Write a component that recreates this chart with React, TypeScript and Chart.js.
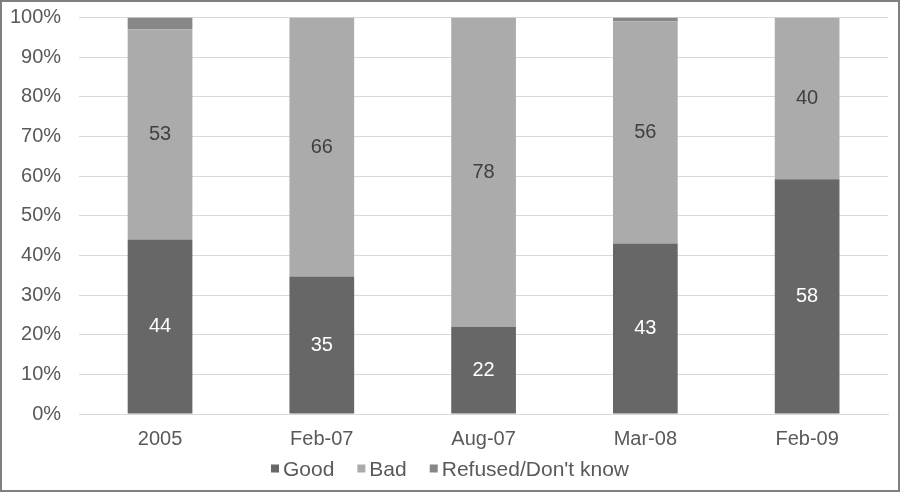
import { useEffect, useRef } from 'react'
import Chart from 'chart.js/auto'

const categories = ['2005', 'Feb-07', 'Aug-07', 'Mar-08', 'Feb-09']
const seriesNames = ['Good', 'Bad', "Refused/Don't know"]
const good = [44, 35, 22, 43, 58]
const bad = [53, 66, 78, 56, 40]
const refused = [3, 0, 0, 1, 0]

const FONT = '"Liberation Sans", Arial, sans-serif'
const TEXT = '#595959'
const colors = ['#676767', '#ababab', '#878787']

const totals = categories.map((_, i) => good[i] + bad[i] + refused[i])
const share = (vals: number[]) => vals.map((v, i) => (v / totals[i]) * 100)

const rawValues = [good, bad, refused]
const labelColors = ['#ffffff', '#404040', null]

// numbers in the middle of each segment
const valueLabels = {
  id: 'valueLabels',
  afterDatasetsDraw(chart: Chart) {
    const ctx = chart.ctx
    ctx.save()
    ctx.font = `20px ${FONT}`
    ctx.textAlign = 'center'
    ctx.textBaseline = 'middle'
    chart.data.datasets.forEach((_, di) => {
      const color = labelColors[di]
      if (!color) return
      const meta = chart.getDatasetMeta(di)
      meta.data.forEach((bar: any, i: number) => {
        const v = rawValues[di][i]
        if (!v) return
        const { x, y, base } = bar.getProps(['x', 'y', 'base'], true)
        ctx.fillStyle = color
        ctx.fillText(String(v), x, (y + base) / 2)
      })
    })
    ctx.restore()
  },
}

// compact legend: small squares close to the text
const compactLegend = {
  id: 'compactLegend',
  afterDraw(chart: Chart) {
    const ctx = chart.ctx
    const box = 8
    const gap = 4
    const spacing = 23
    ctx.save()
    ctx.font = `21px ${FONT}`
    ctx.textBaseline = 'alphabetic'
    const items = chart.data.datasets.map((ds) => ({
      text: String(ds.label),
      color: String(ds.backgroundColor),
      w: ctx.measureText(String(ds.label)).width,
    }))
    const total =
      items.reduce((s, it) => s + box + gap + it.w, 0) + spacing * (items.length - 1)
    let x = chart.width / 2 - total / 2
    const baseline = chart.height - 14.5
    items.forEach((it) => {
      ctx.fillStyle = it.color
      ctx.fillRect(x, baseline - 11, box, box)
      x += box + gap
      ctx.fillStyle = TEXT
      ctx.fillText(it.text, x, baseline)
      x += it.w + spacing
    })
    ctx.restore()
  },
}

export default function App() {
  const canvasRef = useRef<HTMLCanvasElement>(null)
  const chartRef = useRef<Chart | null>(null)

  useEffect(() => {
    document.body.style.margin = '0'
    const canvas = canvasRef.current
    if (!canvas) return
    const ctx = canvas.getContext('2d')
    if (!ctx) return

    if (chartRef.current) chartRef.current.destroy()

    chartRef.current = new Chart(ctx, {
      type: 'bar',
      data: {
        labels: categories,
        datasets: [
          { label: seriesNames[0], data: share(good), backgroundColor: colors[0] },
          { label: seriesNames[1], data: share(bad), backgroundColor: colors[1] },
          { label: seriesNames[2], data: share(refused), backgroundColor: colors[2] },
        ],
      },
      plugins: [valueLabels, compactLegend],
      options: {
        animation: false,
        responsive: true,
        maintainAspectRatio: false,
        datasets: {
          bar: { categoryPercentage: 1, barPercentage: 0.4 },
        },
        layout: { padding: { left: 8, right: 10, top: 15.5, bottom: 34 } },
        plugins: {
          legend: { display: false },
          tooltip: { enabled: false },
        },
        scales: {
          x: {
            stacked: true,
            grid: { display: false },
            border: { display: true, color: '#d9d9d9', width: 1 },
            ticks: {
              color: TEXT,
              font: { family: FONT, size: 20 },
              padding: 5,
            },
          },
          y: {
            stacked: true,
            min: 0,
            max: 100,
            grid: {
              color: '#d9d9d9',
              lineWidth: 1,
              drawTicks: true,
              tickLength: 18,
              tickColor: 'rgba(0,0,0,0)',
            },
            border: { display: false },
            ticks: {
              stepSize: 10,
              color: TEXT,
              font: { family: FONT, size: 20, lineHeight: 1 },
              padding: 0,
              callback: (v) => `${v}%`,
            },
          },
        },
      },
    })

    return () => {
      if (chartRef.current) {
        chartRef.current.destroy()
        chartRef.current = null
      }
    }
  }, [])

  return (
    <div
      style={{
        width: 900,
        height: 492,
        boxSizing: 'border-box',
        border: '2px solid #7f7f7f',
        background: '#ffffff',
      }}
    >
      <div style={{ position: 'relative', width: '100%', height: '100%' }}>
        <canvas ref={canvasRef} />
      </div>
    </div>
  )
}
